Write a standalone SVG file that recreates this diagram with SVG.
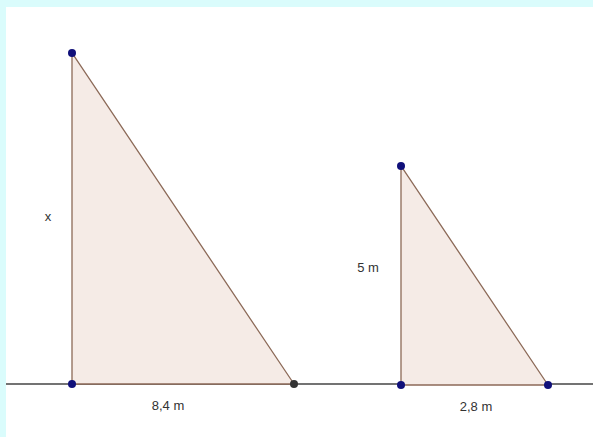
<svg xmlns="http://www.w3.org/2000/svg" width="593" height="437" viewBox="0 0 593 437">
<style>
.tri{fill:#f5ebe6;stroke:#8c6a58;stroke-width:1.3}
.ground{stroke:#737373;stroke-width:2}
.pt{fill:#10107a}
.lbl{font-family:"Liberation Sans",Arial,sans-serif;font-size:13px;fill:#333}
</style>
<rect x="0" y="0" width="593" height="437" fill="#ffffff"/>
<rect x="0" y="0" width="593" height="7" fill="#dafcfc"/>
<rect x="0" y="0" width="6" height="437" fill="#dafcfc"/>
<g id="connectors">
<line class="ground" x1="6" y1="384" x2="593" y2="384"/>
</g>
<g id="triangle-big">
<polygon class="tri" points="72,53 72,384 294,384"/>
</g>
<g id="triangle-small">
<polygon class="tri" points="401,166 401,385 548,385"/>
</g>
<g id="points">
<circle class="pt" cx="72" cy="53" r="4"/>
<circle class="pt" cx="72" cy="384" r="4"/>
<circle cx="294" cy="384" r="4" fill="#333"/>
<circle class="pt" cx="401" cy="166" r="4"/>
<circle class="pt" cx="401" cy="385" r="4"/>
<circle class="pt" cx="548" cy="385" r="4"/>
</g>
<g id="labels">
<text class="lbl" x="48" y="221" text-anchor="middle">x</text>
<text class="lbl" x="168" y="410" text-anchor="middle">8,4 m</text>
<text class="lbl" x="368" y="272" text-anchor="middle">5 m</text>
<text class="lbl" x="476" y="411" text-anchor="middle">2,8 m</text>
</g>
</svg>
